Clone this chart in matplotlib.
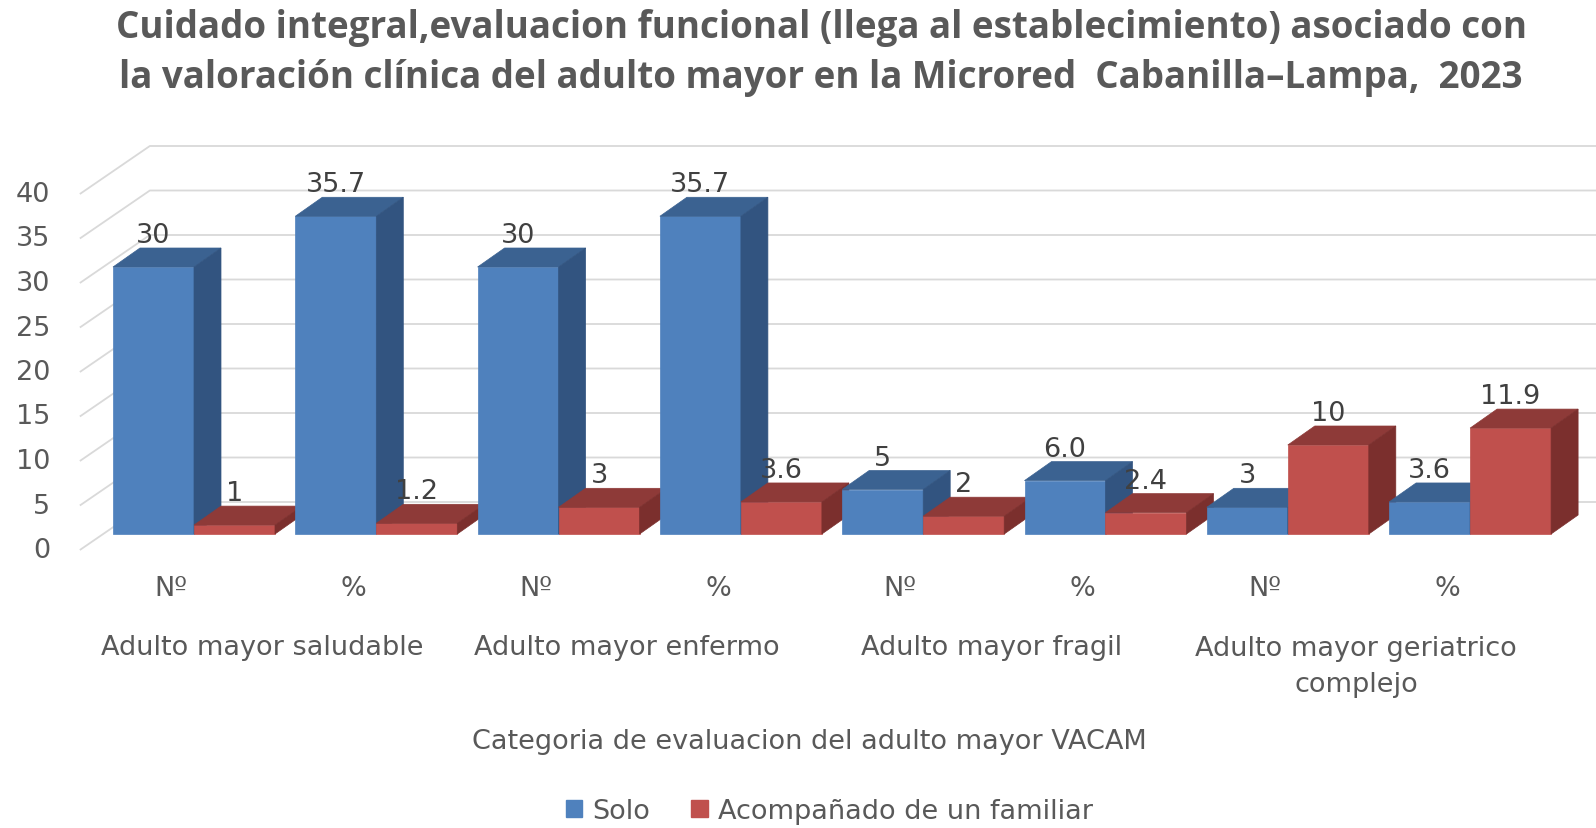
import numpy as np
import matplotlib.pyplot as plt
from matplotlib.patches import Polygon, Patch

# data
groups = ["Adulto mayor saludable", "Adulto mayor enfermo",
          "Adulto mayor fragil", "Adulto mayor geriatrico\ncomplejo"]
ticks = ["Nº", "%", "Nº", "%", "Nº", "%", "Nº", "%"]
solo = [30, 35.7, 30, 35.7, 5, 6.0, 3, 3.6]
solo_lbl = ["30", "35.7", "30", "35.7", "5", "6.0", "3", "3.6"]
acomp = [1, 1.2, 3, 3.6, 2, 2.4, 10, 11.9]
acomp_lbl = ["1", "1.2", "3", "3.6", "2", "2.4", "10", "11.9"]
yticks = [0, 5, 10, 15, 20, 25, 30, 35, 40]

title = ("Cuidado integral,evaluacion funcional (llega al establecimiento) asociado con\n"
         "la valoración clínica del adulto mayor en la Microred  Cabanilla\u2013Lampa,  2023")

# layout (pixels)
W, H = 1596, 829
PX_X, PX_Y = 182.3, 8.9     # px per category, px per unit
X0, Y0 = 171, 551           # front plane origin
FONT = "DejaVu Sans"
FS = 19.5

def dx(p):
    return p / PX_X

def dy(p):
    return p / PX_Y

front_off = (dx(23), dy(16))
depth = (dx(27), dy(19))
wall = (dx(70), dy(48))
bw = 81 / PX_X

colors = {
    "solo": ("#4F81BD", "#3B6291", "#325480"),
    "acomp": ("#C0504D", "#8E3A38", "#7B2F2D"),
}

fig = plt.figure(figsize=(W / 100, H / 100), dpi=100)
ax = fig.add_axes([0, 0, 1, 1])
ax.set_xlim(-X0 / PX_X, (W - X0) / PX_X)
ax.set_ylim(-(H - Y0) / PX_Y, Y0 / PX_Y)
ax.axis("off")

# side wall + back wall gridlines
xl_axis = -0.5
for v in yticks:
    ax.plot([xl_axis, xl_axis + wall[0], 20], [v, v + wall[1], v + wall[1]],
            color="#D9D9D9", lw=1.3, zorder=1, solid_capstyle="butt")
    ax.text(dx(50 - X0), v, str(v), ha="right", va="center",
            fontsize=FS, color="#595959", family=FONT)

# bars
z = 2
labels = []
for i in range(len(ticks)):
    for s, (vals, lbls, key) in enumerate([(solo, solo_lbl, "solo"), (acomp, acomp_lbl, "acomp")]):
        v = vals[i]
        fc, tc, sc = colors[key]
        xl = i + front_off[0] - bw + s * bw
        b0 = front_off[1]
        ax.bar(xl, v, width=bw, bottom=b0, align="edge", color=fc,
               edgecolor=fc, linewidth=0.5, zorder=z)
        top = [(xl, b0 + v), (xl + bw, b0 + v),
               (xl + bw + depth[0], b0 + v + depth[1]), (xl + depth[0], b0 + v + depth[1])]
        side = [(xl + bw, b0), (xl + bw, b0 + v),
                (xl + bw + depth[0], b0 + v + depth[1]), (xl + bw + depth[0], b0 + depth[1])]
        ax.add_patch(Polygon(top, closed=True, facecolor=tc, edgecolor=tc, lw=0.5, zorder=z))
        ax.add_patch(Polygon(side, closed=True, facecolor=sc, edgecolor=sc, lw=0.5, zorder=z))
        z += 1
        labels.append((xl + bw / 2, b0 + v + dy(32), lbls[i]))

for x, y, t in labels:
    ax.text(x, y, t, ha="center", va="center", fontsize=FS, color="#404040",
            family=FONT, zorder=100)

# category tick labels
for i, t in enumerate(ticks):
    ax.text(i, dy(Y0 - 589), t, ha="center", va="center", fontsize=FS,
            color="#595959", family=FONT)

for g, name in enumerate(groups):
    yc = 648 if "\n" not in name else 667
    ax.text(2 * g + 0.5, dy(Y0 - yc), name, ha="center", va="center", fontsize=FS,
            color="#595959", family=FONT, linespacing=1.45)

fig.text(809 / W, 1 - 742 / H, "Categoria de evaluacion del adulto mayor VACAM",
         ha="center", va="center", fontsize=FS, color="#595959", family=FONT)

fig.text(821 / W, 1 - 53 / H, title, ha="center", va="center", fontsize=26.5,
         fontweight="bold", color="#595959", family="Open Sans", linespacing=1.38)

handles = [Patch(color=colors["solo"][0], label="Solo"),
           Patch(color=colors["acomp"][0], label="Acompañado de un familiar")]
fig.legend(handles=handles, loc="center", bbox_to_anchor=(829.5 / W, 1 - 812 / H),
           ncol=2, frameon=False, prop={"family": FONT, "size": FS},
           labelcolor="#595959", handlelength=0.6, handleheight=0.6,
           handletextpad=0.4, columnspacing=1.5)

fig.savefig("out.png", dpi=100)
